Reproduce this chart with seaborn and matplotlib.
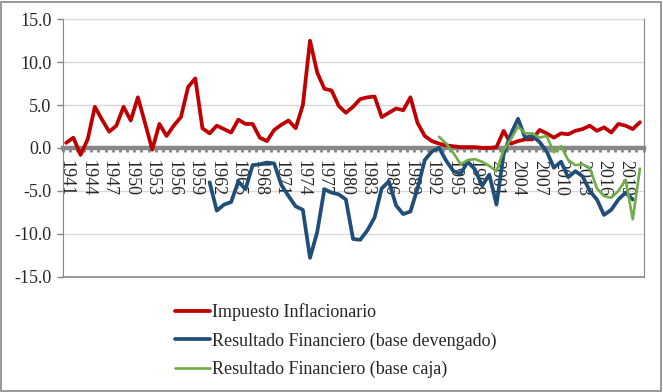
import numpy as np
import pandas as pd
import matplotlib
matplotlib.use("Agg")
import matplotlib.pyplot as plt
from matplotlib.patches import Rectangle
import seaborn as sns

# years on the category axis
years = list(range(1941, 2022))

# Impuesto Inflacionario (1941-2021)
impuesto = [0.6, 1.2, -0.8, 1.0, 4.8, 3.3, 1.9, 2.6, 4.8, 3.2,
            5.9, 2.9, -0.2, 2.8, 1.4, 2.6, 3.6, 7.1, 8.1, 2.3,
            1.7, 2.6, 2.2, 1.8, 3.3, 2.8, 2.8, 1.2, 0.8, 2.1,
            2.7, 3.2, 2.3, 5.0, 12.5, 8.8, 6.9, 6.7, 4.9, 4.1,
            4.8, 5.7, 5.9, 6.0, 3.6, 4.1, 4.6, 4.4, 5.9, 2.9,
            1.4, 0.8, 0.5, 0.3, 0.2, 0.1, 0.1, 0.1, 0.0, 0.0,
            0.1, 2.0, 0.5, 0.8, 1.0, 1.0, 2.1, 1.7, 1.2, 1.7,
            1.6, 2.0, 2.2, 2.6, 2.0, 2.4, 1.8, 2.8, 2.6, 2.2,
            3.0]

# Resultado Financiero (base devengado), 1961-2020
devengado_years = list(range(1961, 2021))
devengado = [-4.0, -7.3, -6.6, -6.3, -3.9, -4.8, -2.0, -1.9, -1.7, -1.8,
             -4.3, -5.6, -6.8, -7.2, -12.8, -9.8, -4.8, -5.2, -5.4, -6.0,
             -10.6, -10.7, -9.6, -8.1, -4.7, -3.9, -6.7, -7.7, -7.4, -4.7,
             -1.4, -0.4, 0.0, -1.5, -2.7, -3.0, -1.6, -2.5, -4.4, -3.1,
             -6.6, -0.7, 1.6, 3.4, 1.2, 1.4, 0.7, -0.4, -2.3, -1.6,
             -3.4, -2.7, -3.3, -5.0, -6.0, -7.8, -7.2, -6.0, -5.2, -6.0]

# Resultado Financiero (base caja), 1993-2021
caja_years = list(range(1993, 2022))
caja = [1.3, 0.5, -0.6, -1.9, -1.4, -1.3, -1.6, -2.1, -2.7, -0.2,
        1.0, 2.5, 1.7, 1.7, 1.2, 1.4, -0.5, 0.2, -1.4, -2.0,
        -1.9, -2.3, -4.7, -5.6, -5.8, -5.0, -3.7, -8.3, -2.4]

labels = ["Impuesto Inflacionario",
          "Resultado Financiero (base devengado)",
          "Resultado Financiero (base caja)"]
colors = ["#C00000", "#1F4E79", "#70AD47"]
widths = [2.7, 2.7, 1.9]

df = pd.concat([
    pd.DataFrame({"year": years, "valor": impuesto, "serie": labels[0]}),
    pd.DataFrame({"year": devengado_years, "valor": devengado, "serie": labels[1]}),
    pd.DataFrame({"year": caja_years, "valor": caja, "serie": labels[2]}),
])

sns.set_style("white")
plt.rcParams["font.family"] = ["Liberation Serif", "DejaVu Serif"]

fig = plt.figure(figsize=(6.63, 3.92), dpi=100)
ax = fig.add_axes([0.0944, 0.294, 0.8762, 0.657])

for lab, col, lw in zip(labels, colors, widths):
    sns.lineplot(data=df[df["serie"] == lab], x="year", y="valor", color=col,
                 linewidth=lw, ax=ax, label=lab, legend=False)

ax.set_xlim(1940.5, 2021.5)
ax.set_ylim(-15, 15)
ax.set_yticks([-15, -10, -5, 0, 5, 10, 15])
ax.set_yticklabels(["%.1f" % v for v in [-15, -10, -5, 0, 5, 10, 15]], fontsize=13)
for v in [-10, -5, 5, 10, 15]:
    ax.axhline(v, color="#D9D9D9", linewidth=1.0, zorder=0)

# category axis crossing at zero
ax.spines["bottom"].set_position(("data", 0))
ax.spines["bottom"].set_color("#878787")
ax.spines["bottom"].set_linewidth(3.2)
ax.spines["bottom"].set_zorder(1)
ax.spines["top"].set_visible(False)
ax.spines["left"].set_color("#878787")
ax.spines["right"].set_color("#878787")
ax.axhline(-15, color="#878787", linewidth=1.2, clip_on=False)

ax.set_xticks(years[::3])
ax.set_xticklabels([str(y) for y in years[::3]], rotation=-90, fontsize=13)
ax.set_xticks(np.arange(1940.5, 2022, 1), minor=True)
ax.tick_params(axis="x", which="major", length=0, pad=9)
ax.tick_params(axis="x", which="minor", length=2.6, width=2.0, color="#878787",
               direction="out", bottom=True)
ax.tick_params(axis="y", length=4, width=1, color="#878787", left=True, pad=4)
ax.set_xlabel("")
ax.set_ylabel("")

handles, labs = ax.get_legend_handles_labels()
fig.legend(handles, labs, loc="upper left", bbox_to_anchor=(0.264, 0.226),
           frameon=False, fontsize=13, handlelength=1.95, handletextpad=0.1,
           labelspacing=0.62, borderaxespad=0, borderpad=0)

fig.patches.append(Rectangle((0.002, 0.003), 0.995, 0.993, transform=fig.transFigure,
                             fill=False, edgecolor="#878787", linewidth=1.2))

fig.savefig("out.png", dpi=100)
